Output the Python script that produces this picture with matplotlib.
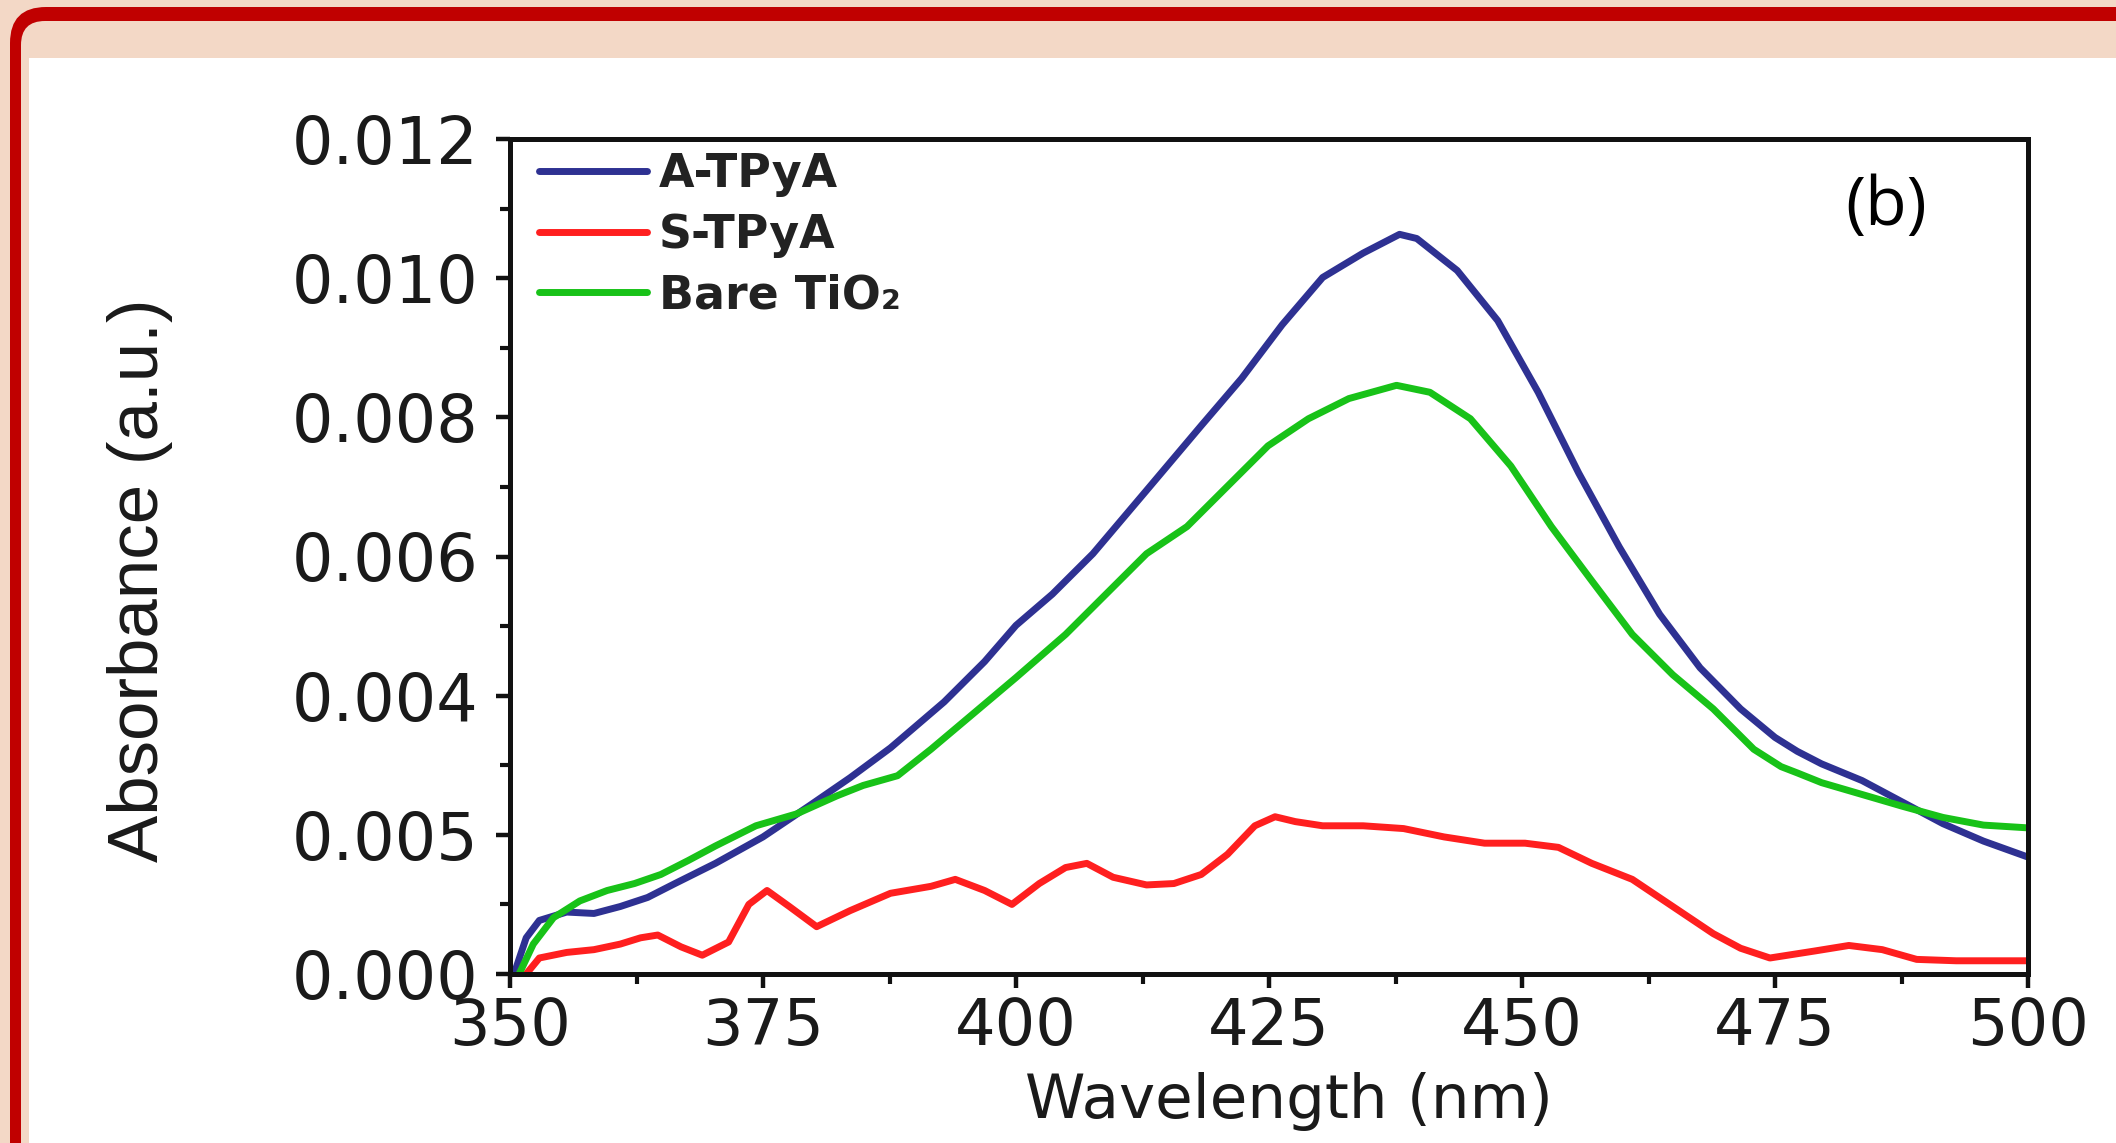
import matplotlib
matplotlib.use("Agg")
import matplotlib.pyplot as plt
from matplotlib.patches import FancyBboxPatch, Rectangle
from matplotlib.ticker import MultipleLocator

# ---------------- data ----------------
wl_a = [350.4, 351.6, 352.9, 355.6, 358.3, 360.9, 363.6, 366.3, 370.3, 375.0, 379.6,
        383.6, 387.6, 392.9, 396.9, 400.0, 403.6, 407.6, 412.9, 418.3, 422.3, 426.3,
        430.3, 434.3, 437.9, 439.6, 443.6, 447.6, 451.6, 455.6, 459.6, 463.6, 467.6,
        471.6, 475.0, 477.2, 479.6, 483.6, 487.6, 491.6, 495.6, 500.0]
abs_a = [0.0, 0.00052, 0.00077, 0.00089, 0.00087, 0.00097, 0.0011, 0.0013, 0.00159,
         0.00197, 0.00242, 0.00282, 0.00325, 0.00391, 0.00449, 0.00501, 0.00546,
         0.00604, 0.00695, 0.00788, 0.00856, 0.00933, 0.01001, 0.01036, 0.01063,
         0.01057, 0.01011, 0.00939, 0.00836, 0.0072, 0.00614, 0.00517, 0.0044,
         0.00381, 0.00340, 0.00320, 0.00302, 0.00278, 0.00247, 0.00216, 0.00191, 0.00168]

wl_s = [351.6, 352.9, 355.6, 358.3, 360.9, 362.9, 364.6, 366.9, 369.0, 371.6, 373.6,
        375.4, 377.6, 380.3, 383.6, 387.6, 391.6, 394.0, 396.9, 399.6, 402.3, 404.9,
        407.0, 409.6, 412.9, 415.6, 418.3, 420.9, 423.6, 425.6, 427.6, 430.3, 434.3,
        438.3, 442.3, 446.3, 450.3, 453.6, 456.9, 460.9, 464.9, 468.9, 471.6, 474.5,
        478.9, 482.3, 485.6, 489.0, 492.9, 500.0]
abs_s = [0.0, 0.00023, 0.00031, 0.00035, 0.00043, 0.00052, 0.00056, 0.00039, 0.00027,
         0.00046, 0.00100, 0.00120, 0.00097, 0.00068, 0.00091, 0.00116, 0.00126,
         0.00136, 0.00120, 0.00100, 0.00130, 0.00153, 0.00159, 0.00139, 0.00128,
         0.00130, 0.00143, 0.00172, 0.00213, 0.00226, 0.00219, 0.00213, 0.00213,
         0.00209, 0.00197, 0.00188, 0.00188, 0.00182, 0.00159, 0.00136, 0.00097,
         0.00058, 0.00037, 0.00023, 0.00033, 0.00041, 0.00035, 0.00021, 0.00019, 0.00019]

wl_g = [350.9, 352.3, 354.3, 356.9, 359.6, 362.3, 364.9, 367.6, 370.3, 374.3, 378.3,
        382.3, 384.9, 388.3, 391.6, 395.6, 400.0, 404.9, 408.9, 412.9, 416.9, 420.9,
        424.9, 428.9, 432.9, 437.6, 440.9, 444.9, 448.9, 452.9, 456.9, 460.9, 464.9,
        468.9, 472.9, 475.6, 477.2, 479.6, 483.6, 487.6, 491.6, 495.6, 500.0]
abs_g = [0.0, 0.00043, 0.00081, 0.00105, 0.0012, 0.0013, 0.00143, 0.00163, 0.00184,
         0.00213, 0.0023, 0.00256, 0.00271, 0.00285, 0.00323, 0.00372, 0.00426,
         0.00488, 0.00546, 0.00604, 0.00643, 0.00701, 0.00759, 0.00798, 0.00827,
         0.00846, 0.00836, 0.00798, 0.0073, 0.00643, 0.00565, 0.00488, 0.0043,
         0.00381, 0.00323, 0.00298, 0.00289, 0.00275, 0.00258, 0.00241, 0.00225,
         0.00214, 0.0021]

series_labels = ["A-TPyA", "S-TPyA", "Bare TiO\u2082"]
series_colors = ["#2e3192", "#ff1f1f", "#18c218"]

x_ticks = [350, 375, 400, 425, 450, 475, 500]
y_ticks = [0.000, 0.002, 0.004, 0.006, 0.008, 0.010, 0.012]
y_tick_labels = ["0.000", "0.005", "0.004", "0.006", "0.008", "0.010", "0.012"]

# ---------------- figure ----------------
W, H = 2116, 1143
fig = plt.figure(figsize=(W / 100, H / 100), dpi=100)

# background frame
bg = fig.add_axes([0, 0, 1, 1], zorder=0)
bg.set_xlim(0, W)
bg.set_ylim(H, 0)
bg.axis("off")
peach = "#f3d8c6"
bg.add_patch(Rectangle((0, 0), W, H, facecolor=peach, edgecolor="none"))
bg.add_patch(FancyBboxPatch((10, 7), W + 200, H + 200,
                            boxstyle="round,pad=0,rounding_size=36",
                            facecolor="#c00000", edgecolor="none"))
bg.add_patch(FancyBboxPatch((21, 21), W + 200, H + 200,
                            boxstyle="round,pad=0,rounding_size=24",
                            facecolor=peach, edgecolor="none"))
bg.add_patch(Rectangle((29, 58), W, H, facecolor="white", edgecolor="none"))

# main axes
L, R, T, B = 510, 2028, 139, 974
ax = fig.add_axes([L / W, 1 - B / H, (R - L) / W, (B - T) / H], zorder=1)
ax.set_facecolor("none")

lw = 5.0
for xs, ys, c, lab in [(wl_a, abs_a, series_colors[0], series_labels[0]),
                       (wl_s, abs_s, series_colors[1], series_labels[1]),
                       (wl_g, abs_g, series_colors[2], series_labels[2])]:
    ax.plot(xs, ys, color=c, lw=lw, label=lab,
            solid_joinstyle="round", solid_capstyle="round")

ax.set_xlim(350, 500)
ax.set_ylim(0, 0.012)
ax.set_xticks(x_ticks)
ax.set_xticklabels([str(v) for v in x_ticks])
ax.set_yticks(y_ticks)
ax.set_yticklabels(y_tick_labels)
ax.xaxis.set_minor_locator(MultipleLocator(12.5))
ax.yaxis.set_minor_locator(MultipleLocator(0.001))

for s in ax.spines.values():
    s.set_linewidth(3.6)
    s.set_color("#111111")

ax.tick_params(which="major", direction="out", length=10, width=3.2,
               colors="#111111", labelsize=47, top=False, right=False)
ax.tick_params(which="minor", direction="out", length=7, width=3.0,
               colors="#111111", top=False, right=False)
ax.tick_params(axis="y", which="major", pad=13)
ax.tick_params(axis="x", which="major", pad=6, labelsize=46)
for lab in ax.get_xticklabels() + ax.get_yticklabels():
    lab.set_fontfamily("DejaVu Sans")
    lab.set_color("#1a1a1a")

ax.set_xlabel("Wavelength (nm)", fontsize=44, family="DejaVu Sans", color="#1a1a1a")
ax.xaxis.set_label_coords(0.513, -0.1175)
ax.set_ylabel("Absorbance (a.u.)", fontsize=51,
              family=["Liberation Sans Narrow", "Liberation Sans"], color="#1a1a1a")
ax.yaxis.set_label_coords(-0.222, 0.472)

leg = ax.legend(loc="upper left", bbox_to_anchor=(0.019, 0.984), frameon=False,
                prop={"family": "DejaVu Sans", "weight": "bold", "size": 33},
                handlelength=2.36, handletextpad=0.26, labelspacing=0.34,
                borderpad=0.0, borderaxespad=0.0)
for t in leg.get_texts():
    t.set_color("#222222")
for h in leg.get_lines():
    h.set_linewidth(5.0)

ax.text(0.9064, 0.9186, "(b)", transform=ax.transAxes, ha="center", va="center",
        fontsize=49, family=["Open Sans", "DejaVu Sans"], color="black")

fig.savefig("out.png", dpi=100)
